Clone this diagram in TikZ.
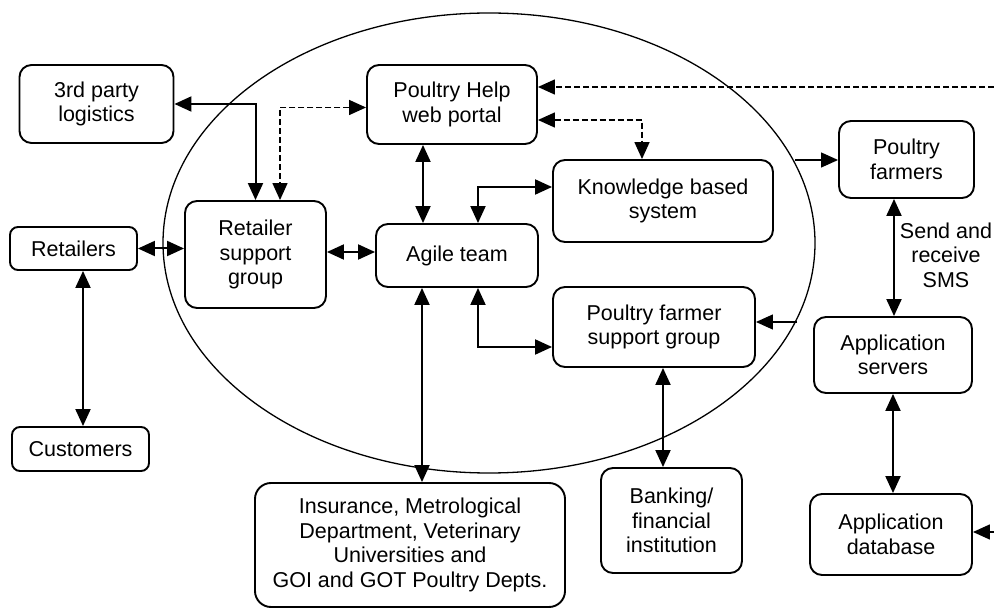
\documentclass[tikz,border=0pt]{standalone}
\usepackage{fontspec}
\setmainfont{Liberation Sans}
\usetikzlibrary{arrows.meta}
\begin{document}
\begin{tikzpicture}[x=1pt,y=-1pt,
  box/.style={draw, line width=1.9pt, rounded corners=12pt, fill=white, align=center, inner sep=0pt,
    font=\fontsize{21.5}{24.5}\selectfont},
  conn/.style={line width=2pt, >={Triangle[length=17pt,width=15pt]}},
  thinconn/.style={line width=1.3pt, >={Triangle[length=17pt,width=15pt]}},
  dconn/.style={line width=1.5pt, dash pattern=on 6pt off 3pt, >={Triangle[length=17pt,width=15pt]}},
  lbl/.style={align=center, inner sep=0pt, font=\fontsize{21.5}{24.5}\selectfont}]
\useasboundingbox (0,0) rectangle (994,609);
\draw[line width=1.3pt] (489,243) ellipse [x radius=326, y radius=230];

\node[box, minimum width=154pt, minimum height=78pt] (tpl) at (96.5,104) {3rd party\\logistics};
\node[box, minimum width=141pt, minimum height=107pt] (rsg) at (255.5,254.5) {Retailer\\support\\group};
\node[box, minimum width=127pt, minimum height=43pt, rounded corners=8pt] (ret) at (73.5,248.5) {Retailers};
\node[box, minimum width=137pt, minimum height=44pt, rounded corners=8pt] (cus) at (80.5,449) {Customers};
\node[box, minimum width=170pt, minimum height=79pt] (php) at (452,104.5) {Poultry Help\\web portal};
\node[box, minimum width=220pt, minimum height=82pt] (kbs) at (663,201) {Knowledge based\\system};
\node[box, minimum width=162pt, minimum height=63pt] (agile) at (457,255.5) {Agile team};
\node[box, minimum width=202pt, minimum height=80pt] (pfsg) at (654,327) {Poultry farmer\\support group};
\node[box, minimum width=135pt, minimum height=77pt] (pf) at (906.5,159.5) {Poultry\\farmers};
\node[box, minimum width=158pt, minimum height=76pt] (as) at (893,355) {Application\\servers};
\node[box, minimum width=162pt, minimum height=81pt] (ad) at (891,534.5) {Application\\database};
\node[box, minimum width=310pt, minimum height=124pt, rounded corners=16pt] (ins) at (410,545) {Insurance, Metrological\\Department, Veterinary\\Universities and\\GOI and GOT Poultry Depts.};
\node[box, minimum width=141pt, minimum height=105pt] (bank) at (671.5,520.5) {Banking/\\financial\\institution};

\coordinate (dashin) at (994,87);
\coordinate (pfin) at (795,160);
\coordinate (pfsgin) at (797,322);
\coordinate (adin) at (994,532);

% solid connectors
\draw[conn,<->] (tpl.east) -| (rsg.north);
\draw[conn,<->] (ret.east) -- (rsg.west |- ret.east);
\draw[conn,<->] (ret.south -| 83,0) -- (cus.north -| 83,0);
\draw[conn,<->] (rsg.east |- 0,252) -- (agile.west |- 0,252);
\draw[conn,<->] (php.south -| 423,0) -- (agile.north -| 423,0);
\draw[conn,<->] (agile.north -| 478,0) |- (kbs.west |- 0,187);
\draw[conn,<->] (agile.south -| 422,0) -- (ins.north -| 422,0);
\draw[conn,<->] (agile.south -| 478,0) |- (pfsg.west |- 0,347);
\draw[conn,<->] (pfsg.south -| 663,0) -- (bank.north -| 663,0);
\draw[conn,<->] (pf.south -| 894,0) -- (as.north -| 894,0);
\draw[conn,<->] (as.south -| 893,0) -- (ad.north -| 893,0);
\draw[thinconn,->] (pfin) -- (pf.west |- pfin);
\draw[thinconn,->] (pfsgin) -- (pfsg.east |- pfsgin);

% dashed connectors
\draw[dconn,<->] ([yshift=-3pt]php.west) -| (rsg.north -| 280,0);
\draw[dconn,<->] (php.east |- 0,120) -| (kbs.north -| 642,0);
\draw[dconn,->] (dashin) -- (php.east |- dashin);
\draw[dconn,->] (adin) -- (ad.east |- adin);

\node[lbl] (sms) at (946,255) {Send and\\receive\\SMS};
\end{tikzpicture}
\end{document}
